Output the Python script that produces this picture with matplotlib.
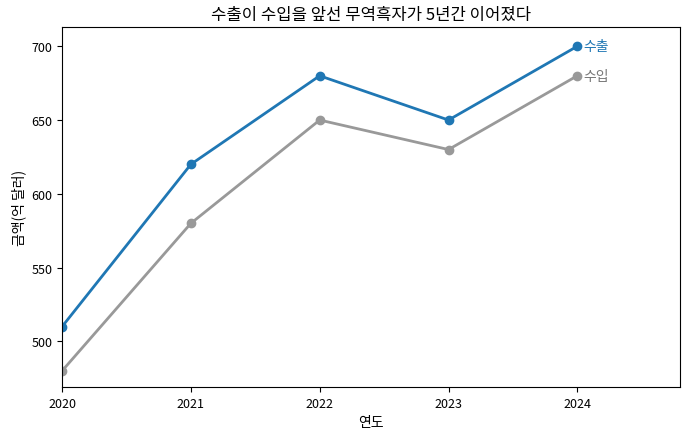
import matplotlib
matplotlib.use("Agg")
import matplotlib.pyplot as plt

plt.rcParams['font.family'] = ['Noto Sans CJK KR', 'DejaVu Sans']
plt.rcParams['axes.unicode_minus'] = False

years = [2020, 2021, 2022, 2023, 2024]
exports = [510, 620, 680, 650, 700]
imports = [480, 580, 650, 630, 680]

fig, ax = plt.subplots(figsize=(6.9, 4.39), dpi=100)
ax.plot(years, exports, color="#1f77b4", lw=2, marker="o", ms=6)
ax.plot(years, imports, color="#999999", lw=2, marker="o", ms=6)
ax.text(years[-1] + 0.05, exports[-1], "수출", color="#1f77b4", va="center", fontsize=10)
ax.text(years[-1] + 0.05, imports[-1], "수입", color="#777777", va="center", fontsize=10)

ax.set_xlim(2020, 2024.8)
ax.set_ylim(469, 713)
ax.set_xticks(years)
ax.set_title("수출이 수입을 앞선 무역흑자가 5년간 이어졌다", fontsize=12)
ax.set_xlabel("연도", fontsize=10)
ax.set_ylabel("금액(억 달러)", fontsize=10)
ax.tick_params(labelsize=9)

fig.subplots_adjust(left=0.09, right=0.986, top=0.936, bottom=0.116)
fig.savefig("out.png", dpi=100)
